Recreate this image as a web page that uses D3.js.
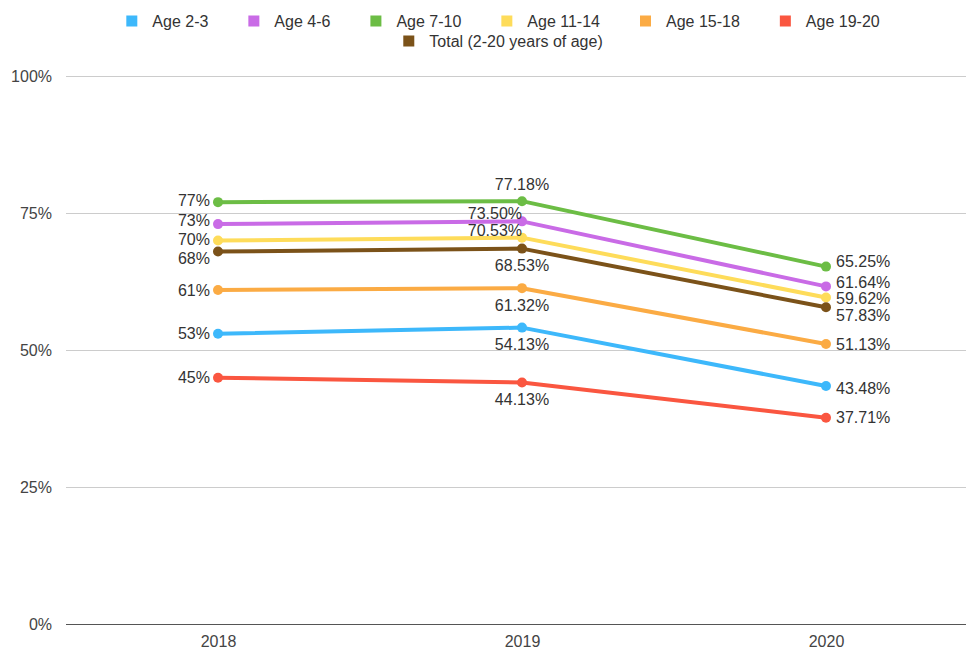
<!DOCTYPE html>
<html>
<head>
<meta charset="utf-8">
<script src="https://cdn.jsdelivr.net/npm/d3@7"></script>
<style>
  html, body { margin: 0; padding: 0; background: #fff; }
  svg { display: block; font-family: "Liberation Sans", Arial, sans-serif; }
</style>
</head>
<body>
<svg id="chart" width="966" height="652"></svg>
<script>
// ---- data ----
const years = ["2018", "2019", "2020"];
const seriesNames = ["Age 2-3", "Age 4-6", "Age 7-10", "Age 11-14", "Age 15-18", "Age 19-20", "Total (2-20 years of age)"];
const age2to3   = [53, 54.13, 43.48];
const age4to6   = [73, 73.50, 61.64];
const age7to10  = [77, 77.18, 65.25];
const age11to14 = [70, 70.53, 59.62];
const age15to18 = [61, 61.32, 51.13];
const age19to20 = [45, 44.13, 37.71];
const total     = [68, 68.53, 57.83];
const labelDecimals = [0, 2, 2];
const yTicks = [0, 25, 50, 75, 100];

// ---- styles ----
const colors = ["#3db8fb", "#c96be6", "#6cbd45", "#fedc5a", "#fbab44", "#fa5640", "#7b5219"];
// label placement per series per year: [anchor, dx, dy]
const labelPlacement = [
  [["end", -8, 0], ["middle", 0, 17], ["start", 10, 2]],
  [["end", -8, -4], ["end", 0, -8], ["start", 10, -4]],
  [["end", -8, -2], ["middle", 0, -17], ["start", 10, -5]],
  [["end", -8, -1], ["end", 0, -7], ["start", 10, 1]],
  [["end", -8, 0], ["middle", 0, 17], ["start", 10, 0]],
  [["end", -8, 0], ["middle", 0, 17], ["start", 10, 0]],
  [["end", -8, 7], ["middle", 0, 17], ["start", 10, 8]]
];

const seriesValues = [age2to3, age4to6, age7to10, age11to14, age15to18, age19to20, total];
const series = seriesNames.map((name, i) => ({ name, values: seriesValues[i], color: colors[i], place: labelPlacement[i] }));

const svg = d3.select("#chart");
const plotLeft = 66, plotRight = 978, plotTop = 76, plotBottom = 624.5;

const x = d3.scalePoint().domain(years).range([plotLeft, plotRight]).padding(0.5);
const y = d3.scaleLinear().domain([0, 100]).range([plotBottom, plotTop]);

// gridlines
svg.append("g").selectAll("line").data(yTicks.filter(t => t !== 0)).join("line")
  .attr("x1", plotLeft).attr("x2", plotRight)
  .attr("y1", d => Math.round(y(d)) + 0.5).attr("y2", d => Math.round(y(d)) + 0.5)
  .attr("stroke", "#cccccc").attr("stroke-width", 1);

// baseline
svg.append("line")
  .attr("x1", plotLeft).attr("x2", plotRight)
  .attr("y1", y(0)).attr("y2", y(0))
  .attr("stroke", "#555").attr("stroke-width", 1);

// y axis labels
const yAxis = d3.axisLeft(y).tickValues(yTicks).tickFormat(d => d + "%").tickSize(0).tickPadding(0);
const gy = svg.append("g").attr("transform", `translate(52,0)`).call(yAxis);
gy.select(".domain").remove();
gy.selectAll("text").attr("font-size", 16).attr("fill", "#444").attr("font-family", "Liberation Sans, Arial, sans-serif");

// x axis labels
const xAxis = d3.axisBottom(x).tickSize(0).tickPadding(0);
const gx = svg.append("g").attr("transform", `translate(0,${plotBottom + 11})`).call(xAxis);
gx.select(".domain").remove();
gx.selectAll("text").attr("font-size", 16).attr("fill", "#444").attr("font-family", "Liberation Sans, Arial, sans-serif");

// lines
const line = d3.line().x((d, i) => x(years[i])).y(d => y(d));
const gSeries = svg.append("g").selectAll("g").data(series).join("g");
gSeries.append("path")
  .attr("d", d => line(d.values))
  .attr("fill", "none")
  .attr("stroke", d => d.color)
  .attr("stroke-width", 4)
  .attr("stroke-linejoin", "round")
  .attr("stroke-linecap", "round");
gSeries.selectAll("circle").data(d => d.values.map((v, i) => ({ v, i, color: d.color }))).join("circle")
  .attr("cx", d => x(years[d.i])).attr("cy", d => y(d.v)).attr("r", 5)
  .attr("fill", d => d.color);

// labels
const gLabels = svg.append("g");
series.forEach(s => {
  s.values.forEach((v, i) => {
    const [anchor, dx, dy] = s.place[i];
    gLabels.append("text")
      .attr("x", x(years[i]) + dx)
      .attr("y", y(v) + dy)
      .attr("dy", "0.35em")
      .attr("text-anchor", anchor)
      .attr("font-size", 16)
      .attr("fill", "#333")
      .text(v.toFixed(labelDecimals[i]) + "%");
  });
});

// legend
const legendCenter = 503;
const rows = [series.slice(0, 6), series.slice(6)];
const rowY = [21, 41];
const sw = 11, swGap = 15, itemGap = 40;
rows.forEach((row, r) => {
  const g = svg.append("g");
  const items = row.map(s => {
    const it = g.append("g");
    it.append("rect").attr("width", sw).attr("height", sw).attr("y", -sw / 2).attr("fill", s.color);
    const t = it.append("text").attr("x", sw + swGap).attr("dy", "0.35em")
      .attr("font-size", 16).attr("fill", "#333").text(s.name);
    return { it, w: sw + swGap + t.node().getComputedTextLength() };
  });
  const totalW = d3.sum(items, d => d.w) + itemGap * (items.length - 1);
  let cx = legendCenter - totalW / 2;
  items.forEach(d => {
    d.it.attr("transform", `translate(${cx},${rowY[r]})`);
    cx += d.w + itemGap;
  });
});
</script>
</body>
</html>
